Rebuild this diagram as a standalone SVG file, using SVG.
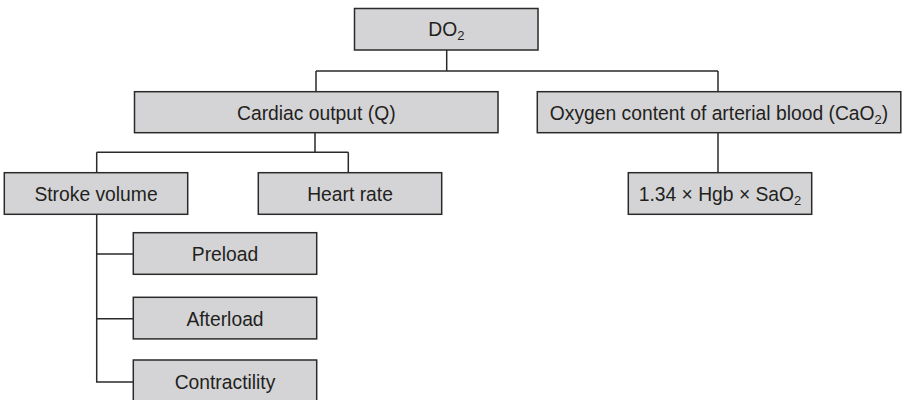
<svg xmlns="http://www.w3.org/2000/svg" width="902" height="400" viewBox="0 0 902 400">
<style>
.box rect{fill:#d4d4d6;stroke:#2a2a2a;stroke-width:1.5}
.box text{font-family:"Liberation Sans",Arial,sans-serif;font-size:19.3px;fill:#231f20;text-anchor:middle}
#connectors path{fill:none;stroke:#2a2a2a;stroke-width:1.5}
</style>
<rect width="902" height="400" fill="#fff"/>
<g id="connectors">
<path d="M446.7 50V71M316 71H718M316 71V91.7M718 71V91.7"/>
<path d="M315 132.7V152.3M96.7 152.3H348.3M96.7 152.3V172.7M348.3 152.3V172.7"/>
<path d="M718 132.7V172.7"/>
<path d="M96.7 214.3V382H133.3M96.7 254H133.3M96.7 318.7H133.3"/>
</g>
<g id="do2" class="box"><rect x="354.5" y="8.5" width="183.5" height="41.5"/><text x="446.3" y="35.5">DO<tspan font-size="13" dy="4">2</tspan></text></g>
<g id="cardiac" class="box"><rect x="134.5" y="91.7" width="363.5" height="41"/><text x="316.3" y="120">Cardiac output (Q)</text></g>
<g id="oxygen" class="box"><rect x="537.3" y="91.7" width="363.5" height="41"/><text x="719" y="120">Oxygen content of arterial blood (CaO<tspan font-size="13" dy="4">2</tspan><tspan dy="-4">)</tspan></text></g>
<g id="stroke" class="box"><rect x="4.3" y="172.7" width="183.4" height="41.6"/><text x="96" y="201">Stroke volume</text></g>
<g id="heart" class="box"><rect x="258.3" y="172.7" width="183.4" height="41.6"/><text x="350" y="201">Heart rate</text></g>
<g id="formula" class="box"><rect x="628.3" y="172.7" width="183.4" height="41.6"/><text x="720" y="201">1.34 × Hgb × SaO<tspan font-size="13" dy="4">2</tspan></text></g>
<g id="preload" class="box"><rect x="133.3" y="232.7" width="183.4" height="41.6"/><text x="225" y="261">Preload</text></g>
<g id="afterload" class="box"><rect x="133.3" y="297.3" width="183.4" height="41.6"/><text x="225" y="325.5">Afterload</text></g>
<g id="contractility" class="box"><rect x="133.3" y="360" width="183.4" height="41.6"/><text x="225" y="388.5">Contractility</text></g>
</svg>
